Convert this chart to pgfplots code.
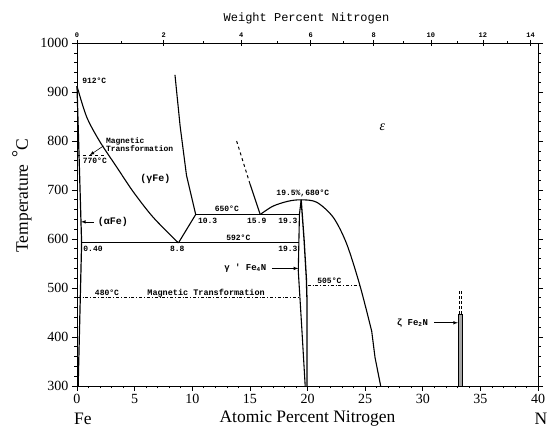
\documentclass[border=0pt]{standalone}
\usepackage{pgfplots}
\pgfplotsset{compat=1.18}
\usepackage{fontspec}
\setmainfont{Liberation Serif}
\setmonofont{Liberation Mono}
\newcommand{\ann}{\fontsize{8}{8}\selectfont\ttfamily\bfseries}
\begin{document}
\begin{tikzpicture}
\begin{axis}[
  name=ax, width=461pt, height=343pt, scale only axis,
  xmin=0, xmax=40, ymin=300, ymax=1000,
  xtick={0,5,...,40}, ytick={300,400,...,1000},
  minor x tick num=4, minor y tick num=4,
  xtick pos=left, yticklabel pos=left,
  tick align=outside, major tick length=5pt, minor tick length=2.5pt,
  tick style={black, line width=0.6pt},
  axis line style={line width=0.8pt},
  ticklabel style={font=\fontsize{14}{14}\selectfont},
  /pgf/number format/assume math mode=true,
  /pgf/number format/1000 sep={},
  clip=false,
]
% alpha boundary
\addplot[black, line width=1.2pt] coordinates {(0,912) (0.4,592) (0.1,300)};
% gamma / alpha+gamma
\addplot[black, line width=1.1pt, smooth] coordinates {(0,912) (0.84,849) (2.0,798) (3.44,747) (4.89,696) (6.62,644) (8.8,592)};
% gamma / gamma+gamma'
\addplot[black, line width=1.1pt] coordinates {(8.5,935) (8.95,830) (9.5,730) (10.3,650) (8.8,592)};
% isotherms
\addplot[black, line width=0.9pt] coordinates {(10.3,650) (19.3,650)};
\addplot[black, line width=0.9pt] coordinates {(0.4,592) (19.3,592)};
% epsilon boundary
\addplot[black, line width=1pt, dashed] coordinates {(13.85,800) (15.0,713)};
\addplot[black, line width=1.1pt] coordinates {(15.0,713) (15.9,650)};
\addplot[black, line width=1.1pt, smooth] coordinates {(15.9,650) (17.0,667) (18.3,677) (19.45,680) (20.8,675) (22.24,644) (23.4,590) (24.55,505) (25.57,412)};
\addplot[black, line width=1.1pt] coordinates {(25.57,412) (25.86,358) (26.35,300)};
% gamma' phase
\addplot[black, line width=1.1pt] coordinates {(19.45,680) (19.3,650) (19.25,592) (19.2,535) (19.5,420) (19.8,300)};
\addplot[black, line width=1.3pt] coordinates {(19.45,680) (19.7,600) (19.9,520) (19.95,480) (19.95,300)};
% magnetic transformations and eutectoid
\addplot[black, line width=0.7pt, dash dot] coordinates {(20.0,505) (24.55,505)};
\addplot[black, line width=0.7pt, dash dot] coordinates {(0.05,480) (19.35,480)};
\addplot[black, line width=0.7pt, dashed] coordinates {(0,770) (2.3,770)};
% zeta Fe2N
\addplot[black, fill=gray!70, line width=0.6pt] coordinates {(33.1,300) (33.1,447) (33.4,447) (33.4,300) (33.1,300)};
\addplot[black, line width=0.8pt, densely dashed] coordinates {(33.15,447) (33.15,498)};
\addplot[black, line width=0.8pt, densely dashed] coordinates {(33.35,447) (33.35,498)};
% arrows
\addplot[black, line width=0.6pt, -latex] coordinates {(2.3,790) (1.1,771)};
\addplot[black, line width=0.6pt, -latex] coordinates {(1.45,635) (0.35,635)};
\addplot[black, line width=0.6pt, -latex] coordinates {(16.9,540) (19.2,540)};
\addplot[black, line width=0.6pt, -latex] coordinates {(31.0,429) (33.05,429)};
% labels
\node[font=\ann, anchor=west] at (axis cs:0.15,922) {912°C};
\node[font=\ann, anchor=west, align=left, inner sep=0pt] at (axis cs:2.5,792) {Magnetic\\Transformation};
\node[font=\ann, anchor=west] at (axis cs:0.2,760) {770°C};
\node[font=\fontsize{10}{10}\selectfont\ttfamily\bfseries] at (axis cs:6.8,723) {(γFe)};
\node[font=\fontsize{10}{10}\selectfont\ttfamily\bfseries, anchor=west] at (axis cs:1.5,635) {(αFe)};
\node[font=\ann, anchor=west] at (axis cs:0.25,580) {0.40};
\node[font=\ann] at (axis cs:8.7,580) {8.8};
\node[font=\ann, anchor=west] at (axis cs:10.2,638) {10.3};
\node[font=\ann] at (axis cs:13.0,661) {650°C};
\node[font=\ann] at (axis cs:15.6,638) {15.9};
\node[font=\ann] at (axis cs:18.3,638) {19.3};
\node[font=\ann] at (axis cs:14.0,603) {592°C};
\node[font=\ann] at (axis cs:18.3,580) {19.3};
\node[font=\ann] at (axis cs:19.6,692) {19.5\%,680°C};
\node[font=\fontsize{9}{9}\selectfont\ttfamily\bfseries] at (axis cs:14.6,540) {γ ʹ Fe\textsubscript{4}N};
\node[font=\ann] at (axis cs:21.9,514) {505°C};
\node[font=\ann] at (axis cs:2.6,490) {480°C};
\node[font=\fontsize{8.5}{8.5}\selectfont\ttfamily\bfseries] at (axis cs:11.2,490) {Magnetic Transformation};
\node[font=\fontsize{14}{14}\selectfont\itshape] at (axis cs:26.5,828) {ε};
\node[font=\fontsize{9}{9}\selectfont\ttfamily\bfseries] at (axis cs:29.1,428) {ζ Fe\textsubscript{2}N};
\end{axis}
\begin{axis}[
  width=461pt, height=343pt, scale only axis,
  xmin=0, xmax=40, ymin=300, ymax=1000,
  axis x line*=top, axis y line=none,
  xtick={0,7.524,14.246,20.286,25.744,30.700,35.219,39.358},
  xticklabels={0,2,4,6,8,10,12,14},
  minor xtick={3.872,10.977,17.345,23.083,28.280,33.010,37.334},
  tick align=center, major tick length=6pt, minor tick length=3pt,
  tick style={black, line width=0.6pt},
  axis line style={line width=0.8pt},
  xticklabel style={font=\fontsize{7}{7}\selectfont\ttfamily\bfseries, yshift=-1pt},
]
\addplot[draw=none] coordinates {(0,300) (40,1000)};
\end{axis}
\node[font=\fontsize{17.5}{18}\selectfont] at ([yshift=-33pt]ax.south) {Atomic Percent Nitrogen};
\node[font=\fontsize{17.5}{18}\selectfont] at ([xshift=6pt,yshift=-33pt]ax.south west) {Fe};
\node[font=\fontsize{17.5}{18}\selectfont] at ([xshift=3pt,yshift=-33pt]ax.south east) {N};
\node[font=\fontsize{17.5}{18}\selectfont, rotate=90] at ([xshift=-55pt,yshift=19pt]ax.west) {Temperature \,\raisebox{0.5ex}{°}C};
\node[font=\fontsize{12}{12}\selectfont\ttfamily] at ([xshift=-1pt,yshift=25pt]ax.north) {Weight Percent Nitrogen};
\pgfresetboundingbox
\path ([xshift=-77pt,yshift=-47pt]ax.south west) rectangle ([xshift=13pt,yshift=43pt]ax.north east);
\end{tikzpicture}
\end{document}
